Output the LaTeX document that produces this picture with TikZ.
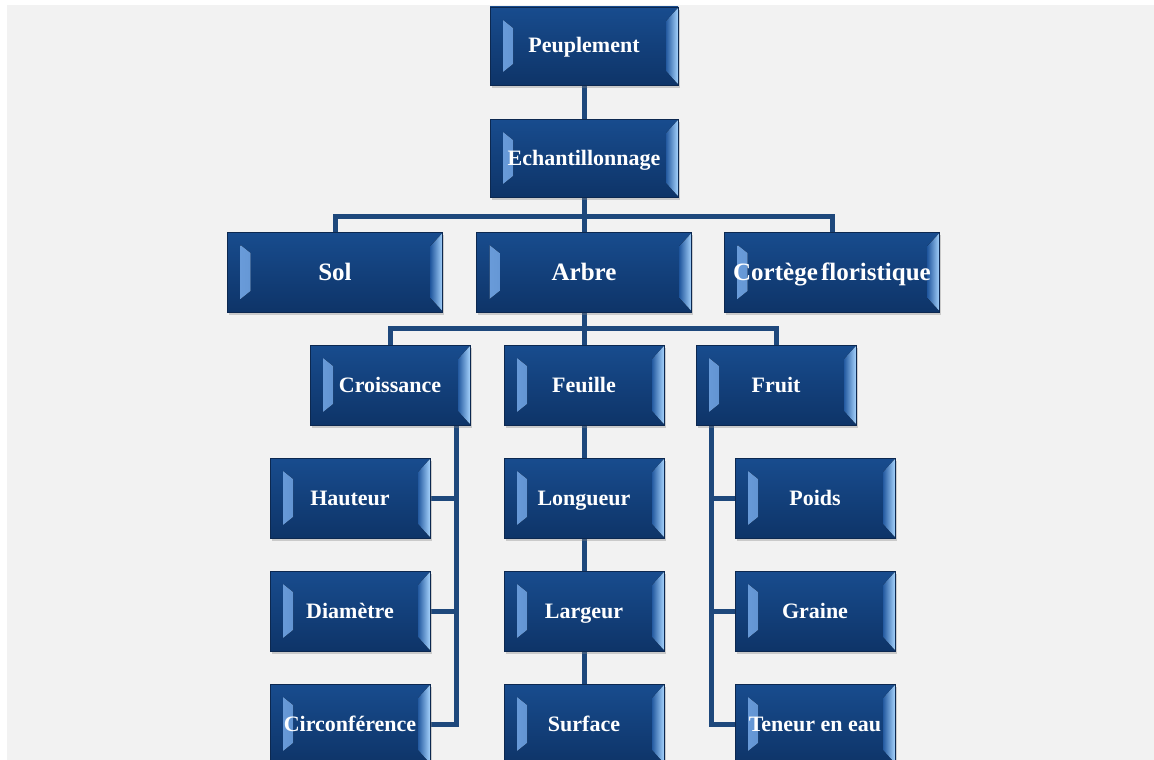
\documentclass[tikz,border=0pt]{standalone}
\usepackage{fontspec}
\setmainfont{Liberation Serif}
\usetikzlibrary{shadows,calc}
\definecolor{bgc}{RGB}{242,242,242}
\definecolor{boxtop}{RGB}{24,76,142}
\definecolor{boxbot}{RGB}{14,52,104}
\definecolor{boxline}{RGB}{12,40,80}
\definecolor{bevL}{RGB}{110,160,222}
\definecolor{bevLin}{RGB}{28,78,142}
\definecolor{bevRout}{RGB}{165,210,252}
\definecolor{bevRin}{RGB}{36,90,160}
\definecolor{conn}{RGB}{30,72,124}
\pgfdeclarelayer{back}
\pgfsetlayers{back,main}
\tikzset{
  box/.style={draw=boxline, line width=0.6pt, top color=boxtop, bottom color=boxbot,
    text=white, inner sep=0pt, font=\bfseries\fontsize{22}{24}\selectfont,
    text height=17pt, text depth=3pt,
    drop shadow={shadow xshift=1.5pt, shadow yshift=-3pt, opacity=0.35},
    path picture={
      \fill[left color=bevL, right color=bevLin]
        ($(path picture bounding box.north west)+(13pt,-13pt)$) --
        ($(path picture bounding box.north west)+(23pt,-21pt)$) --
        ($(path picture bounding box.south west)+(23pt,21pt)$) --
        ($(path picture bounding box.south west)+(13pt,13pt)$) -- cycle;
      \fill[left color=bevRin, right color=bevRout]
        ($(path picture bounding box.north east)+(0pt,-1pt)$) --
        ($(path picture bounding box.north east)+(-12pt,-14pt)$) --
        ($(path picture bounding box.south east)+(-12pt,14pt)$) --
        ($(path picture bounding box.south east)+(0pt,1pt)$) -- cycle;
    }},
  topbox/.style={box, minimum width=188pt, minimum height=78pt},
  bigbox/.style={box, minimum width=215pt, minimum height=80pt,
    font=\bfseries\fontsize{25}{28}\selectfont, text height=20pt, text depth=3pt},
  smallbox/.style={box, minimum width=160pt, minimum height=80pt},
  link/.style={draw=conn, line width=5pt, line join=miter}
}
\begin{document}
\begin{tikzpicture}[x=1pt,y=-1pt]
\useasboundingbox (0,0) rectangle (1154,760);
\clip (0,0) rectangle (1154,760);

\node[topbox] (pe) at (584,46) {Peuplement};
\node[topbox] (ec) at (584,158) {Echantillonnage};
\node[bigbox] (sol) at (335,272) {Sol};
\node[bigbox] (arb) at (584,272) {Arbre};
\node[bigbox] (cor) at (832,272) {Cortège\hspace{-3pt} floristique};
\node[smallbox] (cro) at (390,385) {Croissance};
\node[smallbox] (feu) at (584,385) {Feuille};
\node[smallbox] (fru) at (776,385) {Fruit};
\node[smallbox] (hau) at (350,498) {Hauteur};
\node[smallbox] (dia) at (350,611) {Diamètre};
\node[smallbox] (cir) at (350,724) {Circonférence};
\node[smallbox] (lon) at (584,498) {Longueur};
\node[smallbox] (lar) at (584,611) {Largeur};
\node[smallbox] (sur) at (584,724) {Surface};
\node[smallbox] (poi) at (815,498) {Poids};
\node[smallbox] (gra) at (815,611) {Graine};
\node[smallbox] (ten) at (815,724) {Teneur en eau};

\coordinate (b1) at (584,216);
\coordinate (b2) at (584,328);
\coordinate (cv) at ($(cro.south east)+(-14,0)$);
\coordinate (fv) at ($(fru.south west)+(16,0)$);

\begin{pgfonlayer}{back}
\fill[white] (0,0) rectangle (1154,760);
\fill[bgc] (7,5) rectangle (1154,760);
\path[link] (pe.south) -- (ec.north);
\path[link] (ec.south) -- (b1);
\path[link] (sol.north) |- (b1) -| (cor.north);
\path[link] (arb.north) -- (b1);
\path[link] (arb.south) -- (b2);
\path[link] (cro.north) |- (b2) -| (fru.north);
\path[link] (feu.north) -- (b2);
\path[link] (cv) |- (cir.east);
\path[link] (hau.east) -- (hau.east -| cv);
\path[link] (dia.east) -- (dia.east -| cv);
\path[link] (fv) |- (ten.west);
\path[link] (poi.west) -- (poi.west -| fv);
\path[link] (gra.west) -- (gra.west -| fv);
\path[link] (feu.south) -- (lon.north);
\path[link] (lon.south) -- (lar.north);
\path[link] (lar.south) -- (sur.north);
\end{pgfonlayer}
\end{tikzpicture}
\end{document}
